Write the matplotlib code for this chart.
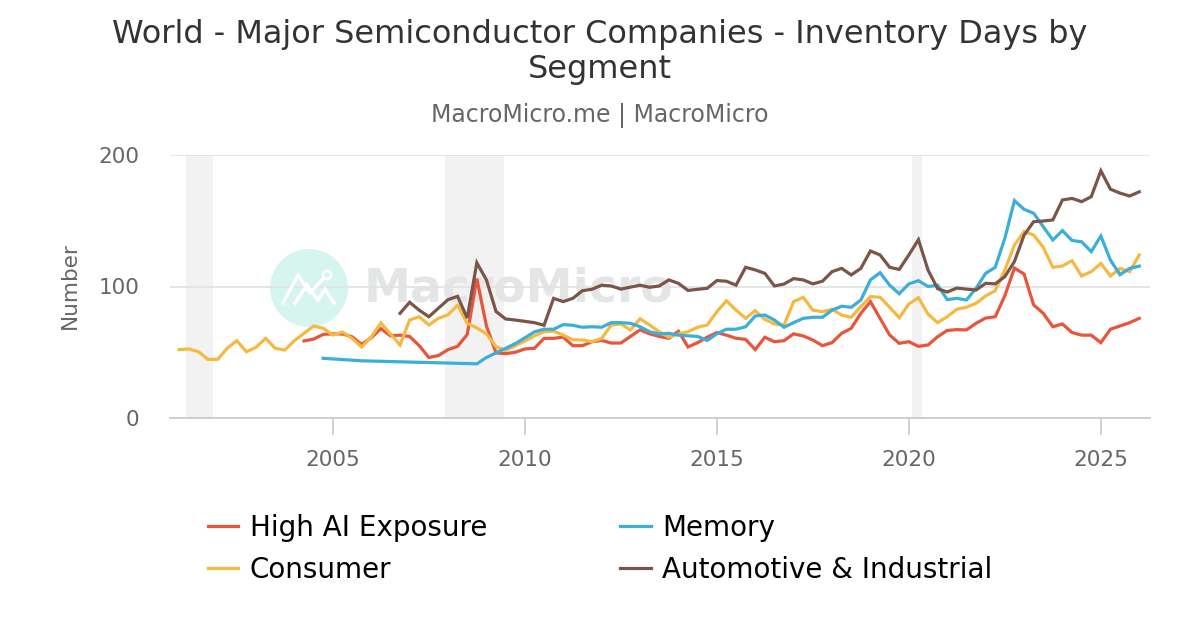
import numpy as np
import matplotlib
matplotlib.use("Agg")
import matplotlib.pyplot as plt
from matplotlib.patches import Circle
from matplotlib.lines import Line2D

# quarterly dates, 2001Q1 .. 2026Q1
dates = 2001 + 0.25 * np.arange(101)

consumer = [52, 52.5, 50.4, 44.6, 44.6, 53, 58.8, 50.4, 53.7, 60.6,
            53, 51.7, 58.8, 64.4, 70, 68.2, 63.1, 65.4, 60.6, 54,
            61.6, 72.3, 64, 55.5, 74.5, 77, 70.7, 75.8, 78.5, 85.8,
            72, 68.5, 64, 54.2, 51.4, 55, 58.5, 62.5, 65.5, 66,
            63, 59.5, 59.3, 58, 60.5, 70.7, 71.5, 67, 75.5, 70.7,
            65.6, 61.5, 63.9, 65.6, 69, 70.7, 80.8, 89.2, 82, 75.8,
            81.6, 75, 71.5, 70.7, 88.5, 91.8, 82, 80.8, 82.7, 78.3,
            76.6, 84.7, 92.3, 91.8, 84.2, 76.3, 86.7, 91.5, 79, 72.5,
            77, 82.7, 84.2, 87.2, 92.8, 96.8, 112.6, 131.6, 141.7, 139.2,
            129.8, 114.6, 115.6, 119.6, 108, 111.3, 117.6, 108, 113.8, 111.3,
            124]

high_ai = [None] * 13 + [
    58.6, 60, 63.6, 64, 63.9, 61.8, 56, 61, 68, 62.5,
    63, 62, 55, 46, 47.5, 52, 54.5, 63.5, 106, 70,
    49.5, 49, 50, 52.5, 53, 60.5, 60.6, 61.5, 55, 55,
    58, 59, 57, 57, 62, 67, 64, 62, 60.6, 66,
    54, 57.3, 61.5, 65, 63, 60.6, 59.8, 52, 61.4, 58,
    58.8, 64, 62.4, 59.3, 55, 57.3, 64.4, 68.2, 79.6, 88.5,
    75.8, 63.1, 56.8, 58, 54.5, 55.5, 61.8, 66.6, 67.2, 67,
    72, 76, 77, 93, 114, 109.5, 86, 79.6, 69.4, 71.5,
    65, 63, 63, 57.3, 67.5, 70, 72.5, 75.8]

memory = [None] * 15 + [45.4, None, None, None, 43.5] + [None] * 11 + [
    41.2, 46, 49.5, 53, 56.5, 61, 65.5, 67.5, 67.5, 71,
    70.5, 69, 69.4, 69, 72.5, 72.5, 72, 69.4, 65.6, 64,
    64.4, 63, 62.5, 62, 59, 64, 67.5, 67.5, 69.4, 77.6,
    78.3, 74.5, 69, 72.5, 75.8, 76.6, 76.6, 82, 85, 84.2,
    89.7, 105, 110.5, 101, 94.5, 102, 104.4, 100, 101, 90,
    91, 89.7, 98.6, 110, 114.6, 136.7, 165.3, 158.7, 155.7, 145.5,
    135.4, 142.5, 135, 134, 126.5, 138.4, 120, 109, 113.8, 115.5]

automotive = [None] * 23 + [
    79.6, 88, 82, 77, 83.5, 90, 92.5, 76, 118, 105,
    81, 75.3, 74.5, 73.5, 72.5, 70.5, 91, 88.5, 91, 96.8,
    97.9, 101, 100.4, 98, 99.5, 101, 99.4, 100.4, 105, 102.4,
    97, 97.9, 98.6, 104.5, 104, 101, 114.6, 112.6, 110, 100.4,
    101.9, 106, 105, 102, 104, 111.3, 113.8, 108.8, 113.8, 127,
    124, 114.6, 113, 124, 135.6, 112.5, 98.3, 95.8, 98.8, 98,
    97.3, 102.4, 102, 107.5, 119, 139, 149.3, 149.8, 150.6, 165.8,
    167, 164.5, 168.3, 188, 174, 171, 168.8, 172]

# recession periods (start, end)
recessions = [(2001.17, 2001.87), (2007.92, 2009.46), (2020.08, 2020.33)]

series = [
    ("High AI Exposure", high_ai, "#E8553B"),
    ("Consumer", consumer, "#F5B941"),
    ("Memory", memory, "#3BAEDA"),
    ("Automotive & Industrial", automotive, "#7A5548"),
]

W, H = 1200, 630
fig = plt.figure(figsize=(12, 6.3), dpi=100)
ax = fig.add_axes([170 / W, 1 - 418 / H, 980 / W, 263 / H])

for a, b in recessions:
    ax.axvspan(a, b, color="#f2f2f2", lw=0, zorder=0)

# watermark (logo circle + name), behind the lines
ax.add_patch(Circle((309, H - 288), 39, transform=None, color="#d5f5ee",
                    lw=0, zorder=0.5))
zig1 = [(283, 303), (298, 275), (310, 293), (322, 280)]
zig2 = [(295, 303), (307, 285), (318, 300), (325, 289), (334, 303)]
for pts in (zig1, zig2):
    xs = [p[0] for p in pts]
    ys = [H - p[1] for p in pts]
    ax.add_line(Line2D(xs, ys, transform=None, color="white", lw=2.4,
                       zorder=0.6, solid_joinstyle="miter"))
ax.add_patch(Circle((327, H - 275), 4, transform=None, fill=False,
                    ec="white", lw=2, zorder=0.6))
ax.text(364 / W, 1 - 289 / H, "MacroMicro", transform=fig.transFigure,
        fontsize=34, fontweight="bold", color="#e4e5e7", va="center",
        ha="left", zorder=0.5)

handles = []
for name, vals, col in series:
    y = np.array([np.nan if v is None else v for v in vals], dtype=float)
    m = ~np.isnan(y)
    h, = ax.plot(dates[m], y[m], color=col, lw=2.3, label=name, zorder=3,
                 solid_joinstyle="miter")
    handles.append(h)

ax.set_xlim(2000.76, 2026.28)
ax.set_ylim(0, 200)
ax.set_yticks([0, 100, 200])
ax.set_xticks([2005, 2010, 2015, 2020, 2025])
ax.grid(axis="y", color="#e3e3e3", lw=1.3, zorder=1)
ax.set_axisbelow(True)
for s in ["top", "right", "left"]:
    ax.spines[s].set_visible(False)
ax.spines["bottom"].set_color("#cccccc")
ax.spines["bottom"].set_linewidth(1.3)
ax.tick_params(axis="y", length=0, pad=22, labelsize=15.5, labelcolor="#666666")
ax.tick_params(axis="x", length=12, width=1.3, color="#cccccc", pad=11,
               labelsize=15.5, labelcolor="#666666")

fig.text(70 / W, 1 - 286 / H, "Number", rotation=90, fontsize=15.5,
         color="#666666", ha="center", va="center")

fig.text(0.5, 1 - 52 / H,
         "World - Major Semiconductor Companies - Inventory Days by\nSegment",
         fontsize=23, color="#333333", ha="center", va="center", linespacing=1.2)
fig.text(0.5, 1 - 116 / H, "MacroMicro.me | MacroMicro", fontsize=17,
         color="#666666", ha="center", va="center")

fig.legend(handles=handles, loc="center", bbox_to_anchor=(0.5, 1 - 549 / H),
           ncol=2, frameon=False, fontsize=20, handlelength=1.1,
           handletextpad=0.4, columnspacing=4.8, labelspacing=0.5)

fig.savefig("out.png", dpi=100)
